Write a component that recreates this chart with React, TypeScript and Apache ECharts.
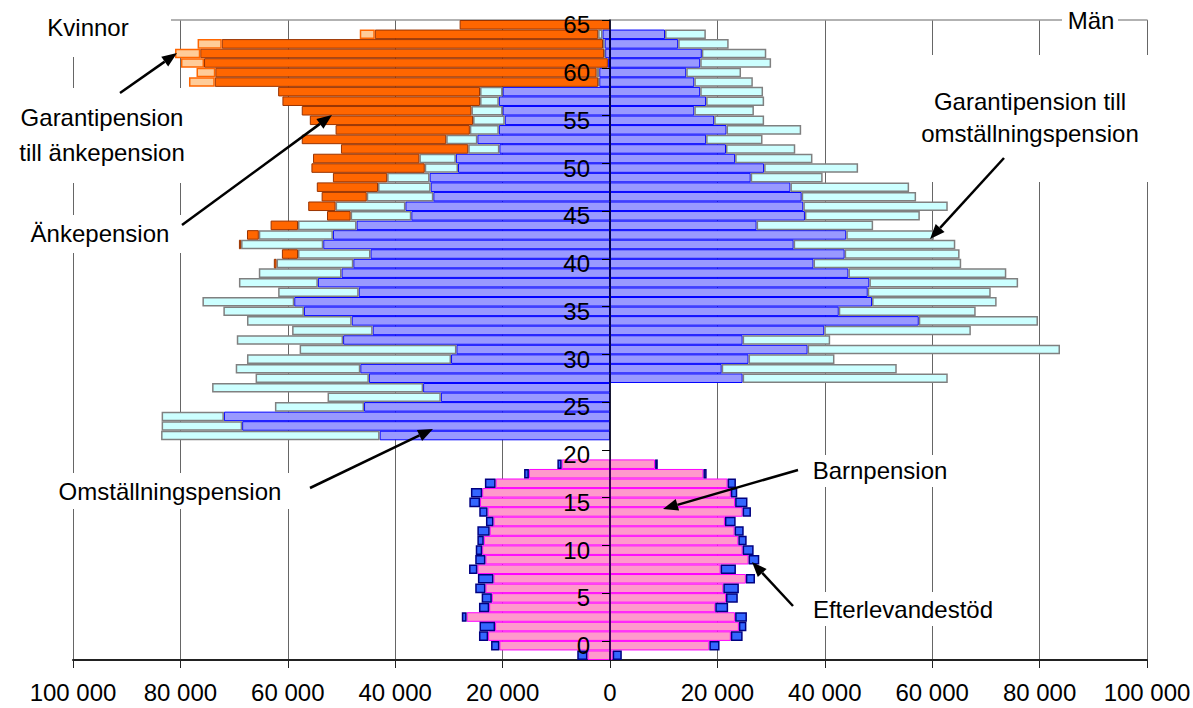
import React, { useEffect, useRef } from "react";
import * as echarts from "echarts";

// Age slots from bottom to top (slot "-1" is the lowest short bar)
const ageSlots: string[] = Array.from({ length: 67 }, (_, i) => String(i - 1));

// Adult ages 22..65 (values in thousands)
const adultAges = [22,23,24,25,26,27,28,29,30,31,32,33,34,35,36,37,38,39,40,41,42,43,44,45,46,47,48,49,50,51,52,53,54,55,56,57,58,59,60,61,62,63,64,65];
const womenOmst = [42.9,68.5,71.9,45.8,31.5,34.8,44.9,46.5,29.6,28.6,49.7,44.2,48.1,57.0,58.8,46.8,54.4,50.0,47.8,44.6,53.4,51.6,47.2,37.0,38.1,32.9,33.4,33.6,28.3,28.7,20.6,24.7,20.7,19.6,20.0,20.7,20.0,2.0,2.0,0.4,0.9,1.0,1.4,0];
const womenGarOmst = [40.7,15.0,11.6,16.6,21.1,39.3,21.1,23.2,38.0,29.2,19.8,15.0,19.5,15.0,17.1,15.0,14.7,15.4,14.3,13.5,15.3,13.8,10.9,11.3,13.0,12.4,9.8,7.9,6.2,6.8,5.8,5.8,5.4,5.9,5.8,3.5,4.2,0.2,0.5,0,0.2,0.3,0.8,0];
const womenAnke = [0,0,0,0,0,0,0,0,0,0,0,0,0,0,0,0,0,0,0.5,3.0,0.4,2.2,5.1,4.4,5.1,8.4,11.4,10.1,21.1,19.8,23.7,26.9,25.0,30.4,31.6,36.8,37.6,71.4,71.0,75.2,75.2,71.0,41.6,28.0];
const womenGarAnke = [0,0,0,0,0,0,0,0,0,0,0,0,0,0,0,0,0,0,0,0,0,0,0,0,0,0,0,0,0,0,0,0,0,0,0,0,0,4.8,3.5,4.3,4.7,4.5,2.8,0];
const menOmst = [0,0,0,0,0,0,24.7,20.8,25.8,36.8,24.7,39.9,57.5,42.6,48.8,48.0,48.3,44.4,37.9,43.7,34.2,44.0,27.3,36.3,36.0,35.7,33.6,26.2,28.7,23.3,21.6,17.9,21.7,19.4,15.7,17.9,16.8,15.7,14.2,16.8,17.1,12.7,10.25,0];
const menGarOmst = [0,0,0,0,0,0,38.2,32.6,16.0,47.0,16.3,27.3,22.2,25.5,23.2,22.9,27.7,29.4,27.5,21.4,30.1,16.3,21.7,21.4,26.9,21.3,22.1,13.4,17.5,14.4,12.9,10.5,13.9,9.3,11.1,10.8,11.7,10.9,10.2,13.2,12.0,9.4,7.6,0];

// Child ages -1..19 (values in thousands)
const childAges = [-1,0,1,2,3,4,5,6,7,8,9,10,11,12,13,14,15,16,17,18,19];
const womenBarn = [4.2,20.6,22.7,21.4,26.7,22.5,22.0,23.2,21.7,24.7,23.2,23.8,23.5,22.4,21.7,22.8,24.2,23.8,21.3,15.1,9.0];
const womenEfter = [1.9,1.55,1.7,2.9,0.9,1.9,1.9,1.9,2.9,1.55,1.9,1.2,1.2,2.3,1.4,1.55,2.0,2.1,2.0,0.9,0.8];
const menBarn = [0.5,18.5,22.5,24.0,23.3,19.6,21.6,21.1,25.3,20.6,25.8,24.7,23.9,23.2,21.4,24.7,23.3,22.5,21.9,17.4,8.4];
const menEfter = [1.7,1.9,2.2,1.4,2.2,2.4,2.2,2.9,1.7,2.85,2.0,2.05,1.55,1.7,2.0,1.55,2.3,1.2,1.55,0.6,0.5];

const xTicks = { min: -100000, max: 100000, interval: 20000 };

const FONT = "'Liberation Sans', Arial, sans-serif";
const GRID_LEFT = 73;
const GRID_RIGHT = 46;
const GRID_W = 1193 - GRID_LEFT - GRID_RIGHT;

function toSlots(ages: number[], vals: number[], sign: number) {
  return ageSlots.map((s) => {
    const idx = ages.indexOf(Number(s));
    if (idx < 0) return null;
    const v = vals[idx];
    if (!v) return null;
    return sign * v * 1000;
  });
}

function arrow(x1: number, y1: number, x2: number, y2: number) {
  const dx = x2 - x1, dy = y2 - y1;
  const len = Math.sqrt(dx * dx + dy * dy);
  const ux = dx / len, uy = dy / len;
  const hl = 15, hw = 6;
  const bx = x2 - ux * hl, by = y2 - uy * hl;
  return [
    { type: "line", z: 80, shape: { x1, y1, x2: bx, y2: by }, style: { stroke: "#000", lineWidth: 2.5 } },
    {
      type: "polygon", z: 80,
      shape: { points: [[x2, y2], [bx - uy * hw, by + ux * hw], [bx + uy * hw, by - ux * hw]] },
      style: { fill: "#000" },
    },
  ];
}

function box(x: number, y: number, w: number, h: number) {
  return { type: "rect", z: 60, shape: { x, y, width: w, height: h }, style: { fill: "#fff" } };
}

function label(text: string, x: number, y: number, size = 24) {
  return {
    type: "text", z: 70, x, y,
    style: {
      text, fill: "#000", fontSize: size, fontFamily: FONT,
      align: "center", verticalAlign: "middle", textAlign: "center", textVerticalAlign: "middle",
    },
  };
}

function barSeries(name: string, data: (number | null)[], fill: string, border: string, bw: number) {
  return {
    name, type: "bar", stack: "all", data,
    barCategoryGap: "0%",
    itemStyle: { color: fill, borderColor: border, borderWidth: bw },
  };
}

export default function App() {
  const ref = useRef<HTMLDivElement>(null);
  useEffect(() => {
    if (!ref.current) return;
    const chart = echarts.init(ref.current, undefined, { renderer: "svg" });
    const option: any = {
      animation: false,
      backgroundColor: "#fff",
      grid: {
        left: GRID_LEFT, right: GRID_RIGHT, top: 20, bottom: 48,
        containLabel: false, outerBoundsMode: "none",
      },
      xAxis: [
        {
          type: "value", position: "bottom", ...xTicks,
          axisLine: { show: true, onZero: false, lineStyle: { color: "#222", width: 2 } },
          axisTick: { show: true, length: 8, lineStyle: { color: "#222" } },
          axisLabel: {
            margin: 20, fontSize: 24, color: "#000", fontFamily: FONT,
            formatter: (v: number) => (v === 0 ? "0" : `${Math.abs(v) / 1000} 000`),
          },
          splitLine: { show: true, lineStyle: { color: "#666", width: 1 } },
        },
        {
          type: "value", position: "top", ...xTicks,
          axisLine: { show: true, onZero: false, lineStyle: { color: "#999", width: 1.5 } },
          axisTick: { show: false }, axisLabel: { show: false }, splitLine: { show: false },
        },
      ],
      yAxis: {
        type: "category", data: ageSlots, boundaryGap: true, z: 5,
        position: "left", offset: -GRID_W / 2,
        axisLine: { show: true, onZero: false, lineStyle: { color: "#000020", width: 1.5 } },
        axisTick: {
          show: true, length: 8, lineStyle: { color: "#000" },
          interval: (i: number) => i >= 2 && (i - 2) % 5 === 0,
        },
        axisLabel: {
          margin: 20, fontSize: 24, color: "#000", fontFamily: FONT,
          interval: (i: number) => (i - 1) % 5 === 0,
        },
        splitLine: { show: false },
      },
      series: [
        barSeries("Omställningspension (kvinnor)", toSlots(adultAges, womenOmst, -1), "#9999FF", "#0000FF", 1),
        barSeries("Garantipension till omställningspension (kvinnor)", toSlots(adultAges, womenGarOmst, -1), "#CCFFFF", "#808080", 1.5),
        barSeries("Änkepension", toSlots(adultAges, womenAnke, -1), "#FF6600", "#993300", 1),
        barSeries("Garantipension till änkepension", toSlots(adultAges, womenGarAnke, -1), "#FFCC99", "#FF6600", 1.5),
        barSeries("Barnpension (kvinnor)", toSlots(childAges, womenBarn, -1), "#FF99CC", "#FF00FF", 1),
        barSeries("Efterlevandestöd (kvinnor)", toSlots(childAges, womenEfter, -1), "#3366FF", "#000080", 1.5),
        barSeries("Omställningspension (män)", toSlots(adultAges, menOmst, 1), "#9999FF", "#0000FF", 1),
        barSeries("Garantipension till omställningspension (män)", toSlots(adultAges, menGarOmst, 1), "#CCFFFF", "#808080", 1.5),
        barSeries("Barnpension (män)", toSlots(childAges, menBarn, 1), "#FF99CC", "#FF00FF", 1),
        barSeries("Efterlevandestöd (män)", toSlots(childAges, menEfter, 1), "#3366FF", "#000080", 1.5),
      ],
      graphic: [
        box(0, 0, 171, 57),
        label("Kvinnor", 88, 27),
        box(1062, 5, 56, 30),
        label("Män", 1091, 20),
        box(8, 88, 182, 95),
        label("Garantipension", 102, 117),
        label("till änkepension", 102, 152),
        box(20, 215, 170, 38),
        label("Änkepension", 100, 233),
        box(870, 55, 300, 127),
        label("Garantipension till", 1030, 101),
        label("omställningspension", 1030, 133),
        box(40, 473, 262, 36),
        label("Omställningspension", 170, 491),
        box(805, 455, 150, 32),
        label("Barnpension", 880, 470),
        box(795, 592, 215, 34),
        label("Efterlevandestöd", 903, 609),
        ...arrow(120, 93, 177, 53),
        ...arrow(182, 225, 332, 115),
        ...arrow(1004, 158, 930, 239),
        ...arrow(310, 488, 433, 429),
        ...arrow(798, 470, 663, 509),
        ...arrow(793, 606, 752, 562),
      ],
    };
    chart.setOption(option);
    return () => chart.dispose();
  }, []);
  return (
    <div
      ref={ref}
      style={{ position: "fixed", left: 0, top: 0, width: 1193, height: 708, background: "#fff" }}
    />
  );
}
